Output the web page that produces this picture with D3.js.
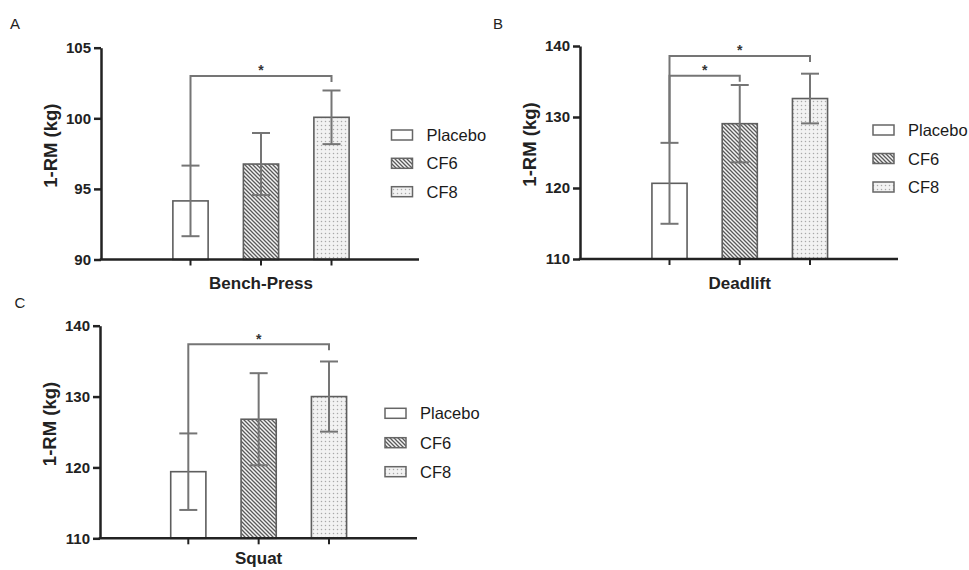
<!DOCTYPE html>
<html>
<head>
<meta charset="utf-8">
<script src="https://cdn.jsdelivr.net/npm/d3@7"></script>
<style>
  html, body { margin: 0; padding: 0; background: #fff; }
  svg { display: block; font-family: "Liberation Sans", Arial, sans-serif; }
</style>
</head>
<body>
<svg id="chart" width="969" height="570"></svg>
<script>
// ---- data ----
const groups = ["Placebo", "CF6", "CF8"];
const benchMean = [94.15, 96.76, 100.07];
const benchSD = [2.5, 2.2, 1.9];
const deadliftMean = [120.66, 129.06, 132.6];
const deadliftSD = [5.7, 5.45, 3.5];
const squatMean = [119.4, 126.8, 130.0];
const squatSD = [5.4, 6.5, 4.95];
const benchTicks = [90, 95, 100, 105];
const liftTicks = [110, 120, 130, 140];
const benchSig = [[0, 2, 103.0]];
const deadliftSig = [[0, 1, 135.8], [0, 2, 138.6]];
const squatSig = [[0, 2, 137.4]];
const panelLetters = ["A", "B", "C"];
const exerciseNames = ["Bench-Press", "Deadlift", "Squat"];
const yTitle = "1-RM (kg)";

// ---- layout ----
const panels = [
  { letter: panelLetters[0], name: exerciseNames[0], mean: benchMean, sd: benchSD, ticks: benchTicks, sig: benchSig,
    ax: 101, yTop: 47.7, yBot: 259.5, xEnd: 419, c0: 190.5, step: 70.5, labOff: 29.5,
    letterPos: [15, 28.5], titleX: 51, legX: 391.5, legY: [135, 163.3, 191.7] },
  { letter: panelLetters[1], name: exerciseNames[1], mean: deadliftMean, sd: deadliftSD, ticks: liftTicks, sig: deadliftSig,
    ax: 580, yTop: 46, yBot: 259, xEnd: 898, c0: 669.5, step: 70.25, labOff: 29.5,
    letterPos: [498, 28.5], titleX: 530, legX: 873, legY: [130, 158.5, 187] },
  { letter: panelLetters[2], name: exerciseNames[2], mean: squatMean, sd: squatSD, ticks: liftTicks, sig: squatSig,
    ax: 100, yTop: 325.7, yBot: 538.3, xEnd: 417, c0: 188.3, step: 70.35, labOff: 26,
    letterPos: [20, 307.5], titleX: 50, legX: 385, legY: [413.3, 442.7, 471.7] }
];

const svg = d3.select("#chart");
const defs = svg.append("defs");

// hatch pattern (CF6)
const hatch = defs.append("pattern").attr("id", "hatch")
  .attr("patternUnits", "userSpaceOnUse").attr("width", 4).attr("height", 4);
hatch.append("rect").attr("width", 4).attr("height", 4).attr("fill", "#f4f4f4");
hatch.append("path").attr("d", "M-1,-1 L5,5 M-1,3 L1,5 M3,-1 L5,1")
  .attr("stroke", "#5a5a5a").attr("stroke-width", 1.3);

// dot pattern (CF8)
const dots = defs.append("pattern").attr("id", "dots")
  .attr("patternUnits", "userSpaceOnUse").attr("width", 4).attr("height", 4);
dots.append("rect").attr("width", 4).attr("height", 4).attr("fill", "#f2f2f2");
dots.append("circle").attr("cx", 1.5).attr("cy", 1.5).attr("r", 0.75).attr("fill", "#a8a8a8");

const fills = ["#ffffff", "url(#hatch)", "url(#dots)"];
const barStroke = "#5e5e5e";
const errColor = "#757575";
const axisColor = "#222";

panels.forEach(p => {
  const g = svg.append("g");
  const y = d3.scaleLinear().domain([p.ticks[0], p.ticks[p.ticks.length - 1]]).range([p.yBot, p.yTop]);
  const x = d3.scaleBand().domain(groups)
    .range([p.c0 - 0.5 * p.step, p.c0 + 2.5 * p.step])
    .paddingInner(0.5).paddingOuter(0.25);
  const bw = x.bandwidth();
  const cx = d => x(d) + bw / 2;

  // bars
  g.selectAll("rect.bar").data(groups).join("rect")
    .attr("class", "bar")
    .attr("x", d => x(d))
    .attr("y", (d, i) => y(p.mean[i]))
    .attr("width", bw)
    .attr("height", (d, i) => y(p.ticks[0]) - y(p.mean[i]))
    .attr("fill", (d, i) => fills[i])
    .attr("stroke", barStroke)
    .attr("stroke-width", 1.6);

  // error bars
  const eg = g.append("g").attr("stroke", errColor).attr("stroke-width", 2).attr("fill", "none");
  groups.forEach((d, i) => {
    const lo = y(p.mean[i] - p.sd[i]), hi = y(p.mean[i] + p.sd[i]);
    eg.append("line").attr("x1", cx(d)).attr("x2", cx(d)).attr("y1", lo).attr("y2", hi);
    eg.append("line").attr("x1", cx(d) - 9).attr("x2", cx(d) + 9).attr("y1", lo).attr("y2", lo);
    eg.append("line").attr("x1", cx(d) - 9).attr("x2", cx(d) + 9).attr("y1", hi).attr("y2", hi);
  });

  // significance brackets
  p.sig.forEach(([a, b, v]) => {
    const xa = cx(groups[a]), xb = cx(groups[b]);
    const yb = y(v);
    const ya = y(p.mean[a] + p.sd[a]);
    eg.append("path").attr("d", `M${xa},${ya} L${xa},${yb} L${xb},${yb} L${xb},${yb + 6}`);
    g.append("text").attr("x", (xa + xb) / 2).attr("y", yb - 0.5)
      .attr("text-anchor", "middle").attr("font-size", 14).attr("font-weight", "bold").attr("fill", "#333").text("*");
  });

  // y axis
  const yAxis = d3.axisLeft(y).tickValues(p.ticks).tickSize(7).tickSizeOuter(0).tickPadding(3);
  const ya = g.append("g").attr("transform", `translate(${p.ax},0)`).call(yAxis);
  ya.select(".domain").attr("stroke", axisColor).attr("stroke-width", 2.5);
  ya.selectAll(".tick line").attr("stroke", axisColor).attr("stroke-width", 2.5);
  ya.selectAll(".tick text").attr("font-size", 15).attr("font-weight", "bold").attr("fill", axisColor)
    .attr("font-family", "Liberation Sans, Arial, sans-serif");

  // x baseline
  g.append("line").attr("x1", p.ax - 1.25).attr("x2", p.xEnd).attr("y1", p.yBot).attr("y2", p.yBot)
    .attr("stroke", axisColor).attr("stroke-width", 2.5);
  const xAxis = d3.axisBottom(x).tickSize(6).tickFormat("");
  const xa = g.append("g").attr("transform", `translate(0,${p.yBot})`).call(xAxis);
  xa.select(".domain").remove();
  xa.selectAll(".tick line").attr("stroke", axisColor).attr("stroke-width", 2);

  // x label
  g.append("text").attr("x", p.c0 + p.step).attr("y", p.yBot + p.labOff)
    .attr("text-anchor", "middle").attr("font-size", 17).attr("font-weight", "bold").attr("fill", axisColor)
    .text(p.name);

  // y title
  g.append("text").attr("transform", `translate(${p.titleX + 6},${(p.yTop + p.yBot) / 2 - 8}) rotate(-90)`)
    .attr("text-anchor", "middle").attr("font-size", 18.5).attr("font-weight", "bold").attr("fill", axisColor)
    .text(yTitle);

  // panel letter
  svg.append("text").attr("x", p.letterPos[0]).attr("y", p.letterPos[1])
    .attr("text-anchor", "middle").attr("font-size", 15).attr("fill", "#222").text(p.letter);

  // legend
  groups.forEach((d, i) => {
    svg.append("rect").attr("x", p.legX).attr("y", p.legY[i] - 5).attr("width", 21).attr("height", 10)
      .attr("fill", fills[i]).attr("stroke", "#666").attr("stroke-width", 1.5);
    svg.append("text").attr("x", p.legX + 35).attr("y", p.legY[i] + 6)
      .attr("font-size", 16.5).attr("fill", "#1a1a1a").text(d);
  });
});
</script>
</body>
</html>
